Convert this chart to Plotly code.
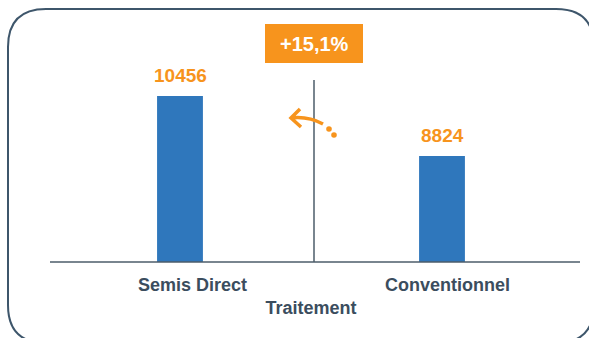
import plotly.graph_objects as go

categories = ["Semis Direct", "Conventionnel"]
values = [10456, 8824]
value_labels = ["10456", "8824"]
gain_label = "+15,1%"

BLUE = "#2F77BC"
ORANGE = "#F7941D"
SLATE = "#3B4D5E"
FONT = "Liberation Sans, Arial, sans-serif"

# plot area in pixels (used to place decorations in paper coords)
L, R, T, B = 49, 573, 20, 262


def px(x):
    return (x - L) / (R - L)


def py(y):
    return (B - y) / (B - T)


fig = go.Figure()

fig.add_trace(go.Bar(
    x=categories,
    y=values,
    marker=dict(color=BLUE, line=dict(width=0)),
    width=0.175,
    hoverinfo="x+y",
))

# value labels above bars
for c, v, t in zip(categories, values, value_labels):
    fig.add_annotation(
        x=c, y=v, text=f"<b>{t}</b>", showarrow=False,
        yanchor="bottom", yshift=8,
        font=dict(family=FONT, size=19, color=ORANGE),
    )

# category labels (slightly off-centre in the original)
for c, dx in zip(categories, [12, 5]):
    fig.add_annotation(
        x=c, y=0, yref="paper", text=f"<b>{c}</b>", showarrow=False,
        yanchor="middle", yshift=-23, xshift=dx,
        font=dict(family=FONT, size=18, color=SLATE),
    )

shapes = []

# rounded frame
x0, y0, x1, y1, r = 8, 9, 594, 343, 38
frame = (
    f"M {px(x0 + r)},{py(y0)} L {px(x1 - r)},{py(y0)} "
    f"Q {px(x1)},{py(y0)} {px(x1)},{py(y0 + r)} "
    f"L {px(x1)},{py(y1 - r)} Q {px(x1)},{py(y1)} {px(x1 - r)},{py(y1)} "
    f"L {px(x0 + r)},{py(y1)} Q {px(x0)},{py(y1)} {px(x0)},{py(y1 - r)} "
    f"L {px(x0)},{py(y0 + r)} Q {px(x0)},{py(y0)} {px(x0 + r)},{py(y0)} Z"
)
shapes.append(dict(type="path", xref="paper", yref="paper", path=frame,
                   line=dict(color="#3E566B", width=2)))

# baseline
shapes.append(dict(type="line", xref="paper", yref="paper",
                   x0=px(50), x1=px(580), y0=py(262), y1=py(262),
                   line=dict(color="#4D5C6A", width=1.5)))
# divider
shapes.append(dict(type="line", xref="paper", yref="paper",
                   x0=px(314), x1=px(314), y0=py(80), y1=py(262),
                   line=dict(color="#4D5C6A", width=1.5)))

# orange badge
shapes.append(dict(type="rect", xref="paper", yref="paper",
                   x0=px(265), x1=px(363), y0=py(24), y1=py(63),
                   fillcolor=ORANGE, line=dict(width=0)))

# curved arrow
arrow = (
    f"M {px(323)},{py(124)} Q {px(308)},{py(116)} {px(291)},{py(118)} "
    f"M {px(300)},{py(109)} L {px(291)},{py(118)} L {px(301)},{py(127)}"
)
shapes.append(dict(type="path", xref="paper", yref="paper", path=arrow,
                   line=dict(color=ORANGE, width=3.5)))
for cx, cy in [(329, 129), (334, 135)]:
    shapes.append(dict(type="circle", xref="paper", yref="paper",
                       x0=px(cx - 2.8), x1=px(cx + 2.8),
                       y0=py(cy - 2.8), y1=py(cy + 2.8),
                       fillcolor=ORANGE, line=dict(width=0)))

fig.add_annotation(
    x=px(314), y=py(44), xref="paper", yref="paper",
    xanchor="center", yanchor="middle",
    text=f"<b>{gain_label}</b>", showarrow=False,
    font=dict(family=FONT, size=20, color="white"),
)

fig.update_layout(
    width=589, height=338,
    margin=dict(l=L, r=589 - R, t=T, b=338 - B),
    paper_bgcolor="white",
    plot_bgcolor="white",
    showlegend=False,
    shapes=shapes,
    font=dict(family=FONT, color=SLATE),
    xaxis=dict(
        range=[-0.5, 1.5],
        showgrid=False, showline=False, zeroline=False,
        ticks="", showticklabels=False,
        title=dict(text="<b>Traitement</b>", standoff=39,
                   font=dict(family=FONT, size=18, color=SLATE)),
    ),
    yaxis=dict(
        range=[5940, 12520],
        visible=False,
    ),
)

# the page has a default 8px body margin; drop it so the figure sits at 0,0
fig.write_html("out.html", config={"displayModeBar": False},
               post_script="document.body.style.margin='0';")
